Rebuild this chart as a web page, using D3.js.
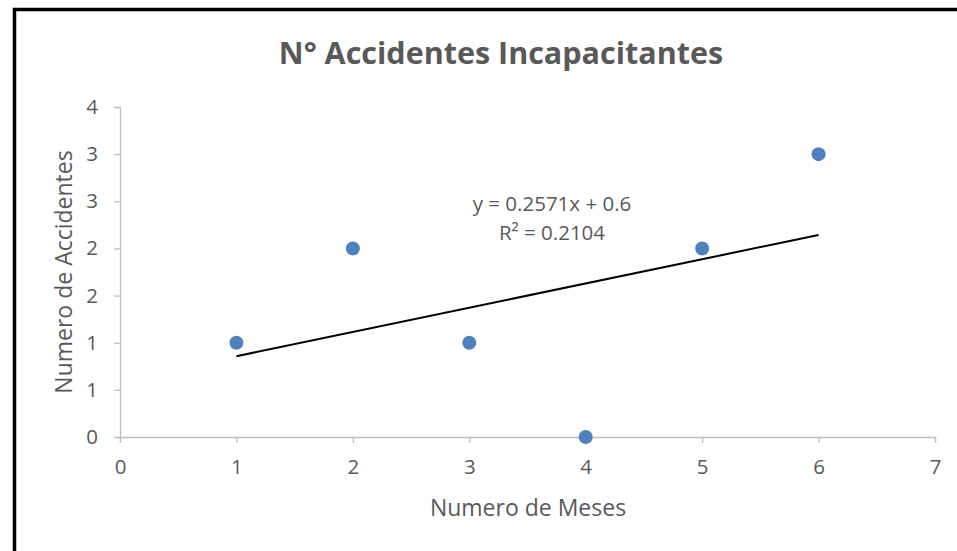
<!DOCTYPE html>
<html>
<head>
<meta charset="utf-8">
<script src="https://cdn.jsdelivr.net/npm/d3@7"></script>
<style>
  html, body { margin: 0; background: #fff; overflow: hidden; }
  svg { display: block; }
  text { font-family: "Open Sans", sans-serif; fill: #595959; }
</style>
</head>
<body>
<div id="chart"></div>
<script>
// datos
const meses = [1, 2, 3, 4, 5, 6];
const accidentes = [1, 2, 1, 0, 2, 3];
const xTicks = [0, 1, 2, 3, 4, 5, 6, 7];
const yTicks = [0, 0.5, 1, 1.5, 2, 2.5, 3, 3.5];
// linea de tendencia (tal como la muestra la etiqueta)
const pendiente = 0.2571;
const intercepto = 0.6;
const ecuacion = ["y = 0.2571x + 0.6", "R² = 0.2104"];

const W = 957, H = 551;
const margin = { top: 107, right: 22, bottom: 114, left: 120 },
  width = W - margin.left - margin.right,
  height = H - margin.top - margin.bottom;

const root = d3.select("#chart").append("svg")
  .attr("width", W)
  .attr("height", H);

// marco (solo se ven el borde superior y el izquierdo)
root.append("path")
  .attr("d", "M14.5," + H + "V9.5H" + W)
  .attr("fill", "none")
  .attr("stroke", "#000")
  .attr("stroke-width", 3.5);

root.append("text")
  .attr("x", 501).attr("y", 64)
  .attr("text-anchor", "middle")
  .style("font-size", "30.5px")
  .style("font-weight", "bold")
  .text("N° Accidentes Incapacitantes");

const svg = root.append("g")
  .attr("transform", "translate(" + margin.left + "," + margin.top + ")");

const x = d3.scaleLinear().domain([0, 7]).range([0, width]);
const y = d3.scaleLinear().domain([0, 3.5]).range([height, 0]);

const xAxis = svg.append("g")
  .attr("transform", "translate(0," + height + ")")
  .call(d3.axisBottom(x).tickValues(xTicks).tickSize(6).tickPadding(15).tickFormat(d3.format("d")));

const yAxis = svg.append("g")
  .call(d3.axisLeft(y).tickValues(yTicks).tickSize(6).tickPadding(16)
    .tickFormat(d => Math.round(d)));

[xAxis, yAxis].forEach(a => {
  a.select(".domain").attr("stroke", "#bfbfbf").attr("stroke-width", 1.3);
  a.selectAll(".tick line").attr("stroke", "#bfbfbf").attr("stroke-width", 1.3);
  a.selectAll("text").style("font-size", "20.5px").attr("fill", "#595959");
});
xAxis.selectAll("text").attr("dy", "0.8em");

// tendencia
svg.append("line")
  .attr("x1", x(meses[0]))
  .attr("y1", y(pendiente * meses[0] + intercepto))
  .attr("x2", x(meses[meses.length - 1]))
  .attr("y2", y(pendiente * meses[meses.length - 1] + intercepto))
  .attr("stroke", "#000")
  .attr("stroke-width", 2);

svg.selectAll("circle")
  .data(meses)
  .enter()
  .append("circle")
  .attr("cx", d => x(d))
  .attr("cy", (d, i) => y(accidentes[i]))
  .attr("r", 7)
  .attr("fill", "#4f81bd");

svg.selectAll(".eq")
  .data(ecuacion)
  .enter()
  .append("text")
  .attr("class", "eq")
  .attr("x", 432)
  .attr("y", (d, i) => 104 + i * 29)
  .attr("text-anchor", "middle")
  .style("font-size", "20.5px")
  .text(d => d);

root.append("text")
  .attr("x", 528).attr("y", 516)
  .attr("text-anchor", "middle")
  .style("font-size", "23px")
  .text("Numero de Meses");

root.append("text")
  .attr("transform", "translate(72,272)rotate(-90)")
  .attr("text-anchor", "middle")
  .style("font-size", "23px")
  .text("Numero de Accidentes");
</script>
</body>
</html>
